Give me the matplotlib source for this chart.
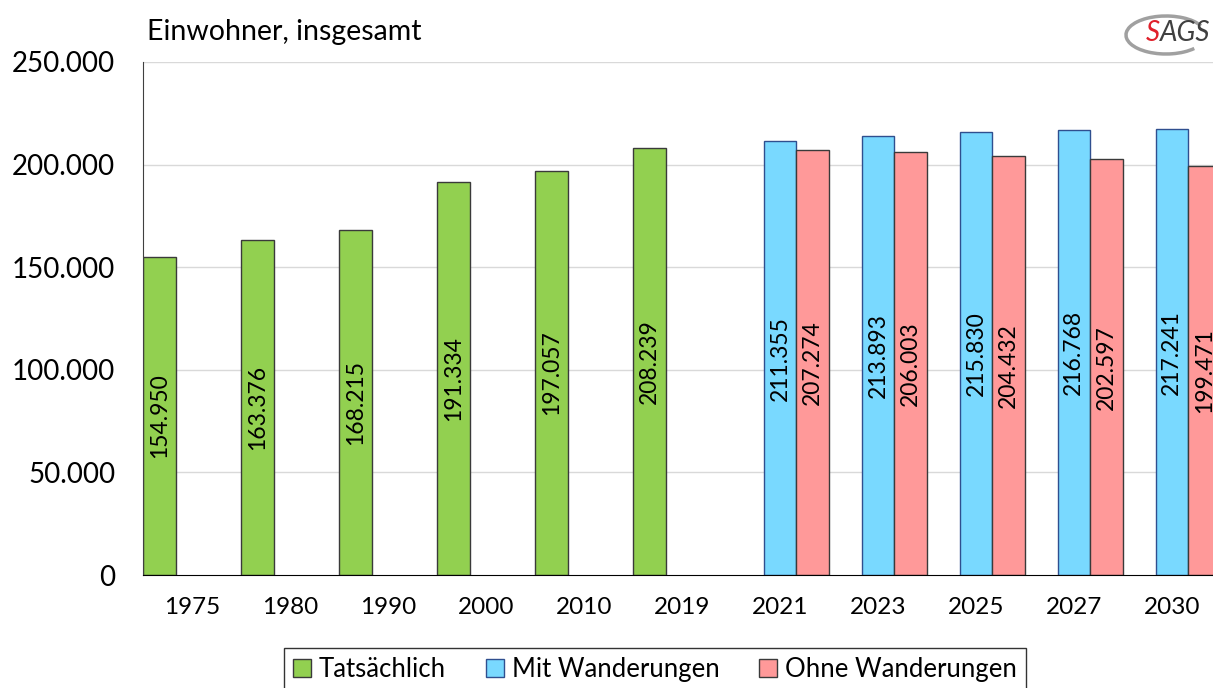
import numpy as np
import matplotlib.pyplot as plt
from matplotlib.patches import Arc

plt.rcParams['font.family'] = ['Lato', 'DejaVu Sans']

# Daten
jahre = ['1975', '1980', '1990', '2000', '2010', '2019',
         '2021', '2023', '2025', '2027', '2030']
tatsaechlich = [154950, 163376, 168215, 191334, 197057, 208239,
                np.nan, np.nan, np.nan, np.nan, np.nan]
mit_wanderungen = [np.nan] * 6 + [211355, 213893, 215830, 216768, 217241]
ohne_wanderungen = [np.nan] * 6 + [207274, 206003, 204432, 202597, 199471]
y_ticks = [0, 50000, 100000, 150000, 200000, 250000]


def fmt_de(v):
    return f"{int(v):,}".replace(',', '.')


def main():
    fig = plt.figure(figsize=(12.13, 6.88), dpi=100)
    ax = fig.add_axes([143 / 1213, 1 - 575 / 688, 1 - 143 / 1213, (575 - 62) / 688])

    x = np.arange(len(jahre))
    w = 1 / 3
    serien = [
        (tatsaechlich, -w, '#92D050', '#3a3a3a', 'Tatsächlich'),
        (mit_wanderungen, 0, '#79D9FF', '#2F4F8F', 'Mit Wanderungen'),
        (ohne_wanderungen, w, '#FF9999', '#3a3a3a', 'Ohne Wanderungen'),
    ]
    for werte, off, farbe, rand, name in serien:
        werte = np.array(werte, dtype=float)
        bars = ax.bar(x + off, werte, width=w, color=farbe, edgecolor=rand,
                      linewidth=1.0, label=name, zorder=3)
        for b, v in zip(bars, werte):
            if np.isnan(v):
                continue
            ax.text(b.get_x() + b.get_width() / 2, v / 2, fmt_de(v),
                    rotation=90, ha='center', va='center', fontsize=16.5,
                    color='black', zorder=4, clip_on=True)

    ax.set_ylim(0, 250000)
    ax.set_xlim(-0.5, 10.42)
    ax.set_yticks(y_ticks)
    ax.set_yticklabels([fmt_de(v) for v in y_ticks], fontsize=20)
    ax.set_xticks(x)
    ax.set_xticklabels(jahre, fontsize=17.5)
    ax.tick_params(axis='y', length=0, pad=20)
    ax.tick_params(axis='x', length=0, pad=16)

    for yv in y_ticks[1:]:
        ax.axhline(yv, color='#D9D9D9', linewidth=1.0, zorder=1)

    for s in ['top', 'right']:
        ax.spines[s].set_visible(False)
    ax.spines['left'].set_color('#404040')
    ax.spines['bottom'].set_color('black')
    ax.spines['left'].set_zorder(5)
    ax.spines['bottom'].set_zorder(5)

    fig.text(147 / 1213, 1 - 32 / 688, 'Einwohner, insgesamt', fontsize=20.5,
             ha='left', va='center')

    # Logo
    fig.patches.append(Arc((1166 / 1213, 1 - 35 / 688), 80 / 1213, 38 / 688,
                           theta1=25, theta2=320, color='#a0a0a0', linewidth=2.5,
                           transform=fig.transFigure, figure=fig))
    fig.text(1146 / 1213, 1 - 33 / 688, 'S', color='#E0202B', fontsize=20,
             style='italic', ha='left', va='center')
    fig.text(1160 / 1213, 1 - 33 / 688, 'AGS', color='#404040', fontsize=20,
             style='italic', ha='left', va='center')

    leg = fig.legend(loc='lower center', bbox_to_anchor=(655 / 1213, -0.015),
                     ncol=3, fontsize=18.5, frameon=True, fancybox=False,
                     handlelength=0.7, handleheight=0.7, handletextpad=0.3,
                     columnspacing=1.55, borderpad=0.35, borderaxespad=0.3)
    leg.get_frame().set_edgecolor('black')
    leg.get_frame().set_linewidth(1.0)

    fig.savefig('out.png', dpi=100)


if __name__ == "__main__":
    main()
